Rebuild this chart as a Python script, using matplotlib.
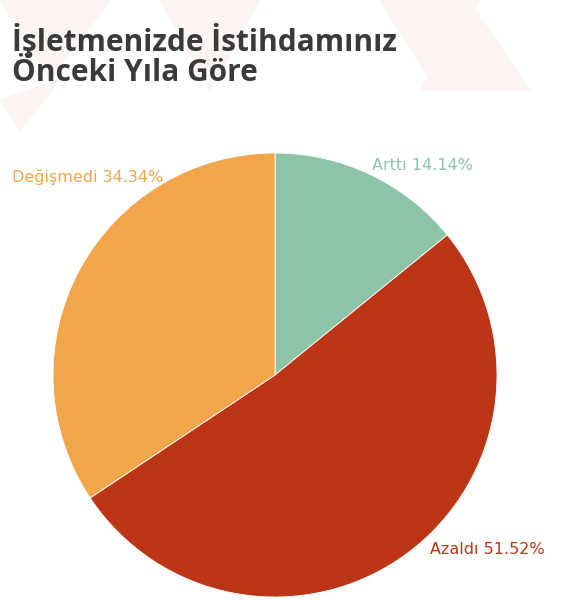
import matplotlib
matplotlib.use('Agg')
import matplotlib.pyplot as plt
from matplotlib.patches import Polygon

labels = ["Arttı", "Azaldı", "Değişmedi"]
values = [14.14, 51.52, 34.34]
colors = ["#8dc4a8", "#bb3516", "#f2a54a"]

fig = plt.figure(figsize=(5.75, 6), dpi=100)
ax = fig.add_axes([0, 0, 1, 1])

# faint background triangles
for pts in [[(0, 600), (110, 600), (50, 520)], [(160, 600), (260, 600), (210, 510)],
            [(380, 600), (480, 600), (430, 520)], [(420, 510), (530, 510), (475, 590)],
            [(0, 500), (60, 520), (20, 470)]]:
    ax.add_patch(Polygon(pts, closed=True, color="#fdf5f3", zorder=0))

ax.pie(values, colors=colors, startangle=90, counterclock=False,
       center=(275, 225), radius=222, frame=True,
       wedgeprops=dict(linewidth=0.6, edgecolor="white"))
ax.set_xlim(0, 575)
ax.set_ylim(0, 600)
ax.set_aspect('equal')
ax.axis('off')

ax.text(12, 560, "İşletmenizde İstihdamınız", fontsize=21.5, fontweight='bold',
        family='Open Sans', color="#3a3a3a", va='center', ha='left')
ax.text(12, 527, "Önceki Yıla Göre", fontsize=21.5, fontweight='bold',
        family='Open Sans', color="#3a3a3a", va='center', ha='left')

pos = [(372, 435), (430, 50), (12, 423)]
for lab, v, c, (x, y) in zip(labels, values, colors, pos):
    ax.text(x, y, f"{lab} {v:.2f}%", color=c, fontsize=11.5, ha='left', va='center')

fig.savefig("out.png", dpi=100)
